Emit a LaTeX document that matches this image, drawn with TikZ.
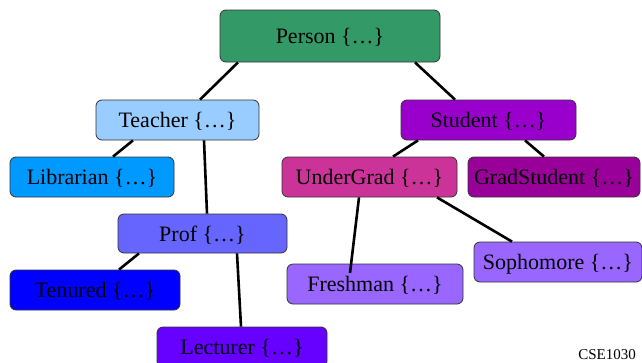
\documentclass[tikz,border=0pt]{standalone}
\usepackage{fontspec}
\setmainfont{Liberation Serif}
\definecolor{cPerson}{HTML}{339966}
\definecolor{cTeacher}{HTML}{99CCFF}
\definecolor{cLibrarian}{HTML}{0099FF}
\definecolor{cStudent}{HTML}{9900CC}
\definecolor{cUnder}{HTML}{CC3399}
\definecolor{cGrad}{HTML}{990099}
\definecolor{cProf}{HTML}{6666FF}
\definecolor{cTenured}{HTML}{0000FF}
\definecolor{cLecturer}{HTML}{6600FF}
\definecolor{cFresh}{HTML}{9966FF}
\definecolor{cBorder}{HTML}{333333}
\tikzset{
  classbox/.style={draw=cBorder, line width=0.8pt, rounded corners=6pt, inner sep=0pt,
    minimum height=40pt, text height=17.5pt, text depth=2pt,
    font=\fontsize{22}{26}\selectfont, text=black},
  link/.style={line width=2.6pt, black}
}
\begin{document}
\begin{tikzpicture}[x=1pt,y=-1pt]
\useasboundingbox (0,0) rectangle (642,362);
\begin{scope}
\clip (0,0) rectangle (642,362);
\node[classbox, fill=cPerson, minimum width=220pt, minimum height=52pt] (person) at (330,36) {Person \{…\}};
\node[classbox, fill=cTeacher, minimum width=163pt] (teacher) at (177.5,120) {Teacher \{…\}};
\node[classbox, fill=cStudent, minimum width=175pt] (student) at (488.5,120) {Student \{…\}};
\node[classbox, fill=cLibrarian, minimum width=164pt] (librarian) at (92,177) {Librarian \{…\}};
\node[classbox, fill=cUnder, minimum width=175pt] (undergrad) at (369.5,177) {UnderGrad \{…\}};
\node[classbox, fill=cGrad, minimum width=172pt] (grad) at (554,177) {GradStudent \{…\}};
\node[classbox, fill=cProf, minimum width=169pt, minimum height=39pt] (prof) at (202.5,233.5) {Prof \{…\}};
\node[classbox, fill=cTenured, minimum width=170pt] (tenured) at (95,290) {Tenured \{…\}};
\node[classbox, fill=cLecturer, minimum width=170pt] (lecturer) at (242,347) {Lecturer \{…\}};
\node[classbox, fill=cFresh, minimum width=176pt] (freshman) at (375,284) {Freshman \{…\}};
\node[classbox, fill=cFresh, minimum width=168pt] (sophomore) at (558,262) {Sophomore \{…\}};
\draw[link] ([xshift=-92pt]person.south) -- ([xshift=22.5pt]teacher.north);
\draw[link] ([xshift=85pt]person.south) -- ([xshift=-33.5pt]student.north);
\draw[link] ([xshift=-44.5pt]teacher.south) -- ([xshift=21pt]librarian.north);
\draw[link] ([xshift=26.5pt]teacher.south) -- ([xshift=4.5pt]prof.north);
\draw[link] ([xshift=-70.5pt]student.south) -- ([xshift=23.5pt]undergrad.north);
\draw[link] ([xshift=36.5pt]student.south) -- ([xshift=-10pt]grad.north);
\draw[link] ([xshift=67.5pt]undergrad.south) -- ([xshift=-46pt]sophomore.north);
\draw[link] ([xshift=-63.5pt]prof.south) -- ([xshift=24pt]tenured.north);
\draw[link] ([xshift=34.5pt]prof.south) -- ([xshift=-1pt]lecturer.north);
\draw[link] ([xshift=-10.5pt]undergrad.south) -- ([xshift=-25pt,yshift=11pt]freshman.center);
\node[anchor=base, font=\fontsize{15}{18}\selectfont] (footer) at (607,359) {CSE1030};
\end{scope}
\end{tikzpicture}
\end{document}
